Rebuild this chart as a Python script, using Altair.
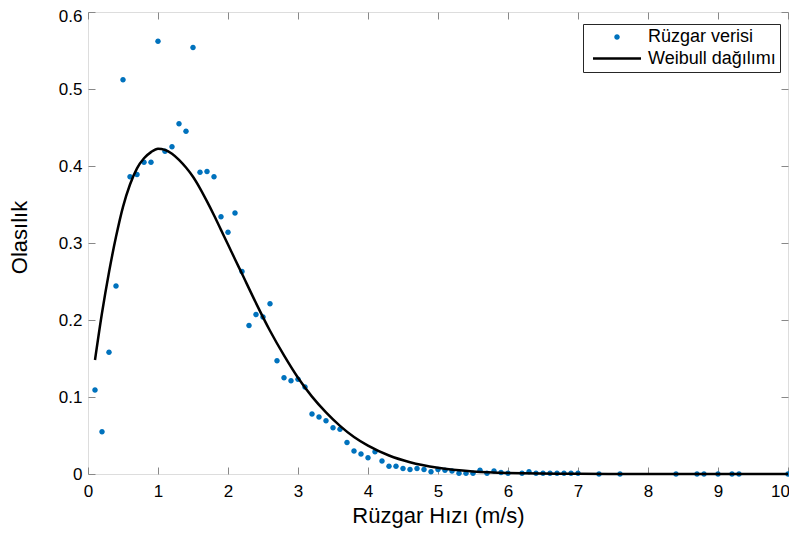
import altair as alt
import pandas as pd

# ---- data ----
wind_speed = [0.1, 0.2, 0.3, 0.4, 0.5, 0.6, 0.7, 0.8, 0.9, 1.0,
              1.1, 1.2, 1.3, 1.4, 1.5, 1.6, 1.7, 1.8, 1.9, 2.0,
              2.1, 2.2, 2.3, 2.4, 2.5, 2.6, 2.7, 2.8, 2.9, 3.0,
              3.1, 3.2, 3.3, 3.4, 3.5, 3.6, 3.7, 3.8, 3.9, 4.0,
              4.1, 4.2, 4.3, 4.4, 4.5, 4.6, 4.7, 4.8, 4.9, 5.0,
              5.1, 5.2, 5.3, 5.4, 5.5, 5.6, 5.7, 5.8, 5.9, 6.0,
              6.2, 6.3, 6.4, 6.5, 6.6, 6.7, 6.8, 6.9, 7.0,
              7.3, 7.6, 8.4, 8.7, 8.8, 9.0, 9.2, 9.3, 10.0]
wind_prob = [0.109, 0.055, 0.158, 0.244, 0.512, 0.386, 0.389, 0.405, 0.405, 0.562,
             0.419, 0.425, 0.455, 0.445, 0.554, 0.392, 0.393, 0.386, 0.334, 0.314,
             0.339, 0.263, 0.193, 0.207, 0.204, 0.221, 0.147, 0.125, 0.121, 0.123,
             0.113, 0.078, 0.074, 0.069, 0.060, 0.058, 0.041, 0.030, 0.026, 0.021,
             0.029, 0.017, 0.010, 0.010, 0.007, 0.006, 0.007, 0.006, 0.003, 0.006,
             0.005, 0.004, 0.001, 0.001, 0.001, 0.005, 0.001, 0.004, 0.002, 0.001,
             0.001, 0.003, 0.001, 0.001, 0.001, 0.001, 0.001, 0.001, 0.001,
             0.0, 0.0, 0.0, 0.0, 0.0, 0.0, 0.0, 0.0, 0.0]

weibull_speed = [0.1, 0.2, 0.3, 0.4, 0.5, 0.6, 0.7, 0.8, 0.9, 1.0,
                 1.1, 1.2, 1.3, 1.4, 1.5, 1.6, 1.7, 1.8, 1.9, 2.0,
                 2.1, 2.2, 2.4, 2.6, 2.8, 3.0, 3.2, 3.4, 3.6, 3.8,
                 4.0, 4.3, 4.6, 5.0, 5.5, 6.0, 7.0, 8.0, 10.0]
weibull_prob = [0.148, 0.209, 0.262, 0.308, 0.347, 0.376, 0.397, 0.410, 0.418, 0.4225,
                0.421, 0.416, 0.408, 0.398, 0.386, 0.371, 0.354, 0.336, 0.317, 0.298,
                0.279, 0.260, 0.222, 0.186, 0.154, 0.125, 0.1005, 0.080, 0.0625, 0.048,
                0.0368, 0.024, 0.0153, 0.0081, 0.0034, 0.0014, 0.0002, 0.0, 0.0]

x_ticks = [0, 1, 2, 3, 4, 5, 6, 7, 8, 9, 10]
y_ticks = [0, 0.1, 0.2, 0.3, 0.4, 0.5, 0.6]
series_names = ["Rüzgar verisi", "Weibull dağılımı"]

scatter_df = pd.DataFrame({"hiz": wind_speed, "olasilik": wind_prob, "seri": series_names[0]})
curve_df = pd.DataFrame({"hiz": weibull_speed, "olasilik": weibull_prob})

AX = "#262626"
FONT = "Liberation Sans"

xscale = alt.Scale(domain=[0, 10], nice=False, zero=False)
yscale = alt.Scale(domain=[0, 0.6], nice=False, zero=False)

x_axis = alt.Axis(values=x_ticks, title="Rüzgar Hızı (m/s)", orient="bottom", grid=False,
                  domain=False, ticks=True, tickSize=7, offset=-7, labelPadding=9,
                  labelFontSize=17, titleFontSize=22, titlePadding=6, labelFlush=False,
                  titleFontWeight="normal",
                  labelOffset={"expr": "datum.value == 10 ? -8 : 0"})
y_axis = alt.Axis(values=y_ticks, format="~g", title="Olasılık", orient="left", grid=False,
                  domain=False, ticks=True, tickSize=7, offset=-7, labelPadding=6,
                  labelFontSize=17, titleFontSize=22, titlePadding=27, labelFlush=False,
                  titleFontWeight="normal", titleY=225,
                  labelOffset={"expr": "datum.value > 0.55 ? 4 : 0"})
x_axis_top = alt.Axis(values=x_ticks, title=None, orient="top", grid=False, labels=False,
                      domain=False, ticks=True, tickSize=7, offset=-7)
y_axis_right = alt.Axis(values=y_ticks, title=None, orient="right", grid=False, labels=False,
                        domain=False, ticks=True, tickSize=7, offset=-7)

dot_path = "M0,-0.55A0.55,0.55 0 1,1 0,0.55A0.55,0.55 0 1,1 0,-0.55Z"
line_path = "M-4.8,0H4.8"

legend = alt.Legend(title=None, orient="none", legendX=495, legendY=12,
                    strokeColor=AX, fillColor="white", padding=4, cornerRadius=0,
                    labelFont=FONT, labelFontSize=18, labelColor="black",
                    symbolSize=100, symbolOffset=21, labelOffset=22, rowPadding=3.5,
                    symbolStrokeWidth=2.5, symbolOpacity=1)

points = alt.Chart(scatter_df).mark_point(filled=True, size=100, opacity=1).encode(
    x=alt.X("hiz:Q", scale=xscale, axis=x_axis),
    y=alt.Y("olasilik:Q", scale=yscale, axis=y_axis),
    color=alt.Color("seri:N", scale=alt.Scale(domain=series_names, range=["#0072BD", "#000000"]), legend=legend),
    shape=alt.Shape("seri:N", scale=alt.Scale(domain=series_names, range=[dot_path, line_path]), legend=legend),
    stroke=alt.Stroke("seri:N", scale=alt.Scale(domain=series_names, range=["transparent", "#000000"]), legend=legend),
)

curve = alt.Chart(curve_df).mark_line(color="black", strokeWidth=2.5, interpolate="monotone").encode(
    x=alt.X("hiz:Q", scale=xscale, axis=x_axis_top),
    y=alt.Y("olasilik:Q", scale=yscale, axis=y_axis_right),
)

chart = alt.layer(points, curve).resolve_axis(x="independent", y="independent").properties(
    width=700, height=462,
    padding={"left": 80, "top": 4, "right": 1, "bottom": 55},
    autosize=alt.AutoSizeParams(type="none"),
).configure_view(stroke=AX, strokeWidth=1).configure_axis(
    labelFont=FONT, titleFont=FONT, labelColor=AX, titleColor=AX,
    tickColor=AX, tickWidth=1, titleFontWeight="normal",
).configure(background="white")

chart.save("out.html", embed_options={"renderer": "svg", "actions": False})
